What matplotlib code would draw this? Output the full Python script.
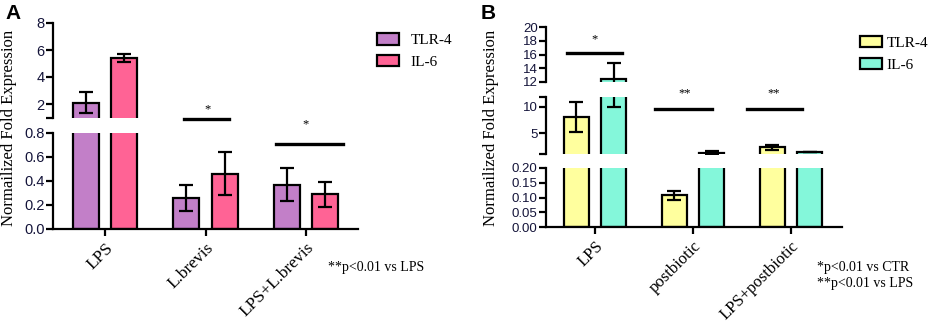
import matplotlib
matplotlib.use("Agg")
import matplotlib.pyplot as plt
import numpy as np
from matplotlib.patches import Patch

# data
groups_a = ['LPS', 'L.brevis', 'LPS+L.brevis']
tlr4_a = [2.1, 0.26, 0.37]
tlr4_a_err = [0.8, 0.11, 0.135]
il6_a = [5.4, 0.46, 0.29]
il6_a_err = [0.3, 0.18, 0.105]

groups_b = ['LPS', 'postbiotic', 'LPS+postbiotic']
tlr4_b = [8.0, 0.107, 2.25]
tlr4_b_err = [2.9, 0.016, 0.45]
il6_b = [12.4, 1.25, 1.35]
il6_b_err = [2.4, 0.35, 0.06]

W, H = 941, 323
SERIF = 'Liberation Serif'
SANS = 'Liberation Sans'
TICKCOL = '#14143a'


def fax(fig, x0, x1, ytop, ybot):
    # axes from pixel box
    return fig.add_axes([x0 / W, 1 - ybot / H, (x1 - x0) / W, (ybot - ytop) / H])


def draw_bars(ax, vals1, err1, vals2, err2, c1, c2):
    x = np.arange(len(vals1))
    off, bw = 0.19, 0.26
    b1 = ax.bar(x - off, vals1, bw, color=c1, edgecolor='black', linewidth=1.6, zorder=2)
    b2 = ax.bar(x + off, vals2, bw, color=c2, edgecolor='black', linewidth=1.6, zorder=2)
    ax.errorbar(x - off, vals1, yerr=err1, fmt='none', ecolor='black', elinewidth=1.6,
                capsize=5, capthick=1.6, zorder=3)
    ax.errorbar(x + off, vals2, yerr=err2, fmt='none', ecolor='black', elinewidth=1.6,
                capsize=5, capthick=1.6, zorder=3)
    return b1, b2


def style(ax, ticks, labels, ylim, xlim, bottom=False, fs=10):
    ax.set_ylim(*ylim)
    ax.set_xlim(*xlim)
    ax.set_yticks(ticks, labels=labels)
    for s in ['top', 'right']:
        ax.spines[s].set_visible(False)
    ax.spines['left'].set_linewidth(1.6)
    ax.tick_params(axis='y', direction='out', length=5, width=1.6, labelsize=fs,
                   labelcolor=TICKCOL, pad=1)
    for t in ax.get_yticklabels():
        t.set_fontfamily(SANS)
    ax.patch.set_alpha(0)
    if bottom:
        ax.spines['bottom'].set_linewidth(1.6)
        ax.tick_params(axis='x', direction='out', length=5, width=1.6, pad=3)
    else:
        ax.spines['bottom'].set_visible(False)
        ax.set_xticks([])


fig = plt.figure(figsize=(W / 100, H / 100), dpi=100)

# ---------- panel A ----------
xlim_a = (-0.52, 2.52)
col_a = ['#c27fc8', '#ff6395']
axa_up = fax(fig, 53, 358, 23, 117.5)
axa_lo = fax(fig, 53, 358, 133, 229)
for ax in [axa_up, axa_lo]:
    bars_a = draw_bars(ax, tlr4_a, tlr4_a_err, il6_a, il6_a_err, *col_a)
style(axa_up, [1, 2, 4, 6, 8], ['', '2', '4', '6', '8'], (1, 8), xlim_a, fs=10.5)
style(axa_lo, [0, 0.2, 0.4, 0.6, 0.8], ['0.0', '0.2', '0.4', '0.6', '0.8'], (0, 0.8),
      xlim_a, bottom=True, fs=10.5)
axa_lo.set_xticks(np.arange(len(groups_a)))
axa_lo.set_xticklabels(groups_a, rotation=45, ha='right', rotation_mode='anchor',
                       fontfamily=SERIF, fontsize=12.5)

# significance marks
axa_lo.plot([0.79, 1.23], [0.917, 0.917], color='black', lw=2.4, clip_on=False)
axa_lo.text(1.02, 1.0, '*', ha='center', va='center', fontsize=9, family=SERIF, clip_on=False)
axa_lo.plot([1.70, 2.37], [0.71, 0.71], color='black', lw=2.4, clip_on=False)
axa_lo.text(2.0, 0.87, '*', ha='center', va='center', fontsize=9, family=SERIF, clip_on=False)

fig.text(9 / W, 1 - 128 / H, 'Normailized Fold Expression', rotation=90, ha='center',
         va='center', family=SERIF, fontsize=12)
fig.text(5 / W, 1 - 4 / H, 'A', ha='left', va='top', family=SANS, weight='bold', fontsize=15)
fig.legend([Patch(facecolor=c, edgecolor='black', linewidth=1.6) for c in col_a],
           ['TLR-4', 'IL-6'], loc='upper left', bbox_to_anchor=(377 / W, 1 - 33 / H),
           frameon=False, borderpad=0, borderaxespad=0, handlelength=1.45,
           handleheight=0.8, handletextpad=0.75, labelspacing=0.5,
           prop={'family': SERIF, 'size': 11})
fig.text(328 / W, 1 - 267 / H, '**p<0.01 vs LPS', ha='left', va='center', family=SERIF,
         fontsize=10)

# ---------- panel B ----------
xlim_b = (-0.5, 2.52)
col_b = ['#ffff9e', '#84f7da']
axb_up = fax(fig, 546, 842, 27, 82)
axb_mid = fax(fig, 546, 842, 96.6, 153.8)
axb_lo = fax(fig, 546, 842, 168, 227)
for ax in [axb_up, axb_mid, axb_lo]:
    bars_b = draw_bars(ax, tlr4_b, tlr4_b_err, il6_b, il6_b_err, *col_b)
style(axb_up, [12, 14, 16, 18, 20], ['12', '14', '16', '18', '20'], (12, 20), xlim_b, fs=9.5)
style(axb_mid, [1, 5, 10, 12], ['', '5', '10', ''], (1, 12), xlim_b, fs=9.5)
style(axb_lo, [0, 0.05, 0.10, 0.15, 0.20], ['0.00', '0.05', '0.10', '0.15', '0.20'],
      (0, 0.2), xlim_b, bottom=True, fs=9.5)
axb_lo.set_xticks(np.arange(len(groups_b)))
axb_lo.set_xticklabels(groups_b, rotation=45, ha='right', rotation_mode='anchor',
                       fontfamily=SERIF, fontsize=12)

axb_up.plot([-0.29, 0.28], [16.2, 16.2], color='black', lw=2.4, clip_on=False)
axb_up.text(0.0, 18.2, '*', ha='center', va='center', fontsize=9, family=SERIF, clip_on=False)
axb_mid.plot([0.61, 1.19], [9.6, 9.6], color='black', lw=2.4, clip_on=False)
axb_mid.text(0.91, 12.7, '**', ha='center', va='center', fontsize=9, family=SERIF, clip_on=False)
axb_mid.plot([1.55, 2.11], [9.6, 9.6], color='black', lw=2.4, clip_on=False)
axb_mid.text(1.82, 12.7, '**', ha='center', va='center', fontsize=9, family=SERIF, clip_on=False)

fig.text(491 / W, 1 - 128 / H, 'Normailized Fold Expression', rotation=90, ha='center',
         va='center', family=SERIF, fontsize=12)
fig.text(481 / W, 1 - 4 / H, 'B', ha='left', va='top', family=SANS, weight='bold', fontsize=15)
fig.legend([Patch(facecolor=c, edgecolor='black', linewidth=1.6) for c in col_b],
           ['TLR-4', 'IL-6'], loc='upper left', bbox_to_anchor=(860 / W, 1 - 36 / H),
           frameon=False, borderpad=0, borderaxespad=0, handlelength=1.45,
           handleheight=0.7, handletextpad=0.3, labelspacing=0.55,
           prop={'family': SERIF, 'size': 11})
fig.text(817 / W, 1 - 267 / H, '*p<0.01 vs CTR', ha='left', va='center', family=SERIF,
         fontsize=10)
fig.text(817 / W, 1 - 284 / H, '**p<0.01 vs LPS', ha='left', va='center', family=SERIF,
         fontsize=10)

fig.savefig('out.png', dpi=100)
